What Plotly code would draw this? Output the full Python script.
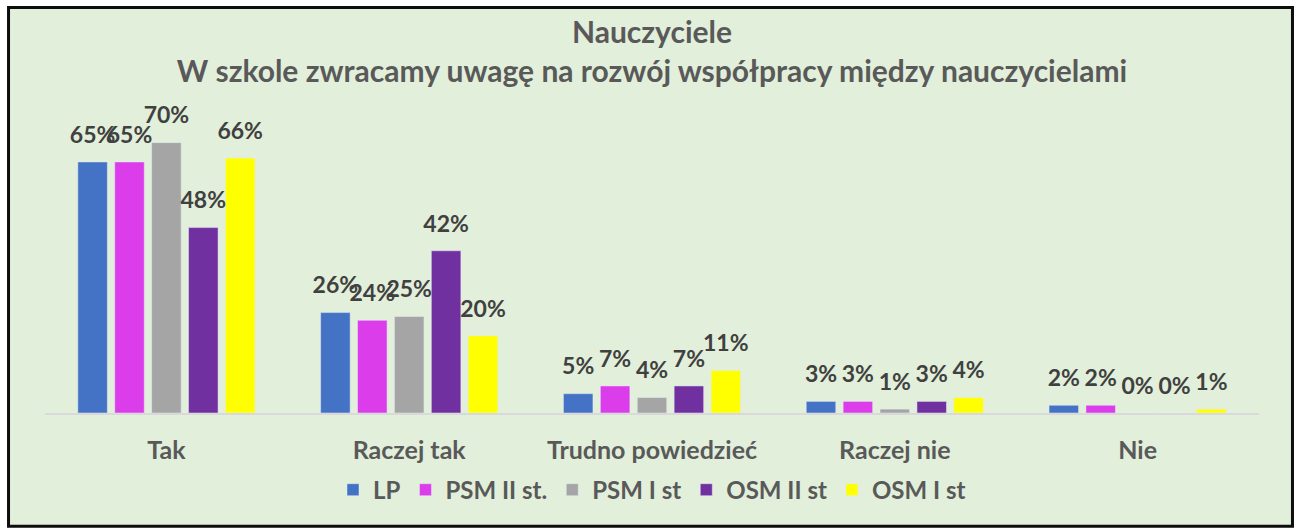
import plotly.graph_objects as go

categories = ["Tak", "Raczej tak", "Trudno powiedzieć", "Raczej nie", "Nie"]
series_names = ["LP", "PSM II st.", "PSM I st", "OSM II st", "OSM I st"]
values = {
    "LP":         [0.65, 0.26, 0.05, 0.03, 0.02],
    "PSM II st.": [0.65, 0.24, 0.07, 0.03, 0.02],
    "PSM I st":   [0.70, 0.25, 0.04, 0.01, 0.00],
    "OSM II st":  [0.48, 0.42, 0.07, 0.03, 0.00],
    "OSM I st":   [0.66, 0.20, 0.11, 0.04, 0.01],
}
colors = ["#4472C4", "#DC3DEA", "#A5A5A5", "#7030A0", "#FFFF00"]

FONT = "Lato, Carlito, Calibri, sans-serif"

fig = go.Figure()
for name, col in zip(series_names, colors):
    v = values[name]
    fig.add_trace(go.Bar(
        x=categories, y=v, name=name,
        marker=dict(color=col),
        offsetgroup=name,
        hoverinfo="x+y+name",
    ))
for name in series_names:
    v = values[name]
    fig.add_trace(go.Scatter(
        x=categories, y=v, name=name,
        mode="markers+text",
        marker=dict(size=20, opacity=0),
        text=[f"{round(x*100)}%" for x in v],
        textposition="top center",
        textfont=dict(family=FONT, size=23, color="#404040", weight="bold"),
        offsetgroup=name,
        cliponaxis=False,
        showlegend=False,
        hoverinfo="skip",
    ))

L, R, T, B = 44.5, 1259.5, 104.4, 413.0
W, H = R - L, B - T

def px_x(x):
    return (x - L) / W

def px_y(y):
    return (B - y) / H

fig.update_layout(
    width=1296, height=531,
    margin=dict(l=L, r=1296 - R, t=T, b=531 - B, pad=0, autoexpand=False),
    paper_bgcolor="white",
    plot_bgcolor="rgba(0,0,0,0)",
    barmode="group",
    scattermode="group",
    bargap=0.24,
    bargroupgap=0.2,
    scattergap=0.24,
    font=dict(family=FONT, color="#595959"),
    title=dict(
        text="Nauczyciele<br>W szkole zwracamy uwagę na rozwój współpracy między nauczycielami",
        x=0.5, xref="paper", xanchor="center",
        y=1 - 43 / 531, yref="container", yanchor="middle",
        font=dict(family=FONT, size=30, color="#595959", weight="bold"),
    ),
    legend=dict(
        orientation="h", x=0.5, xanchor="center",
        y=px_y(490), yanchor="middle",
        font=dict(family=FONT, size=24, color="#595959", weight="bold"),
        bgcolor="rgba(0,0,0,0)",
        traceorder="normal",
    ),
    shapes=[dict(
        type="rect", xref="paper", yref="paper", layer="below",
        x0=px_x(8), x1=px_x(1293), y0=px_y(526), y1=px_y(8),
        fillcolor="#E2EFDA", line=dict(color="#0D0D0D", width=3),
    )],
)
fig.update_xaxes(
    showline=True, linecolor="#D9D9D9", linewidth=2,
    ticks="", showgrid=False,
    tickfont=dict(family=FONT, size=25, color="#595959", weight="bold"),
    ticklabelstandoff=14,
)
fig.update_yaxes(range=[0, 0.8], visible=False, showgrid=False)

fig.write_html("out.html", config={"displayModeBar": False},
               post_script="document.body.style.margin='0';")
